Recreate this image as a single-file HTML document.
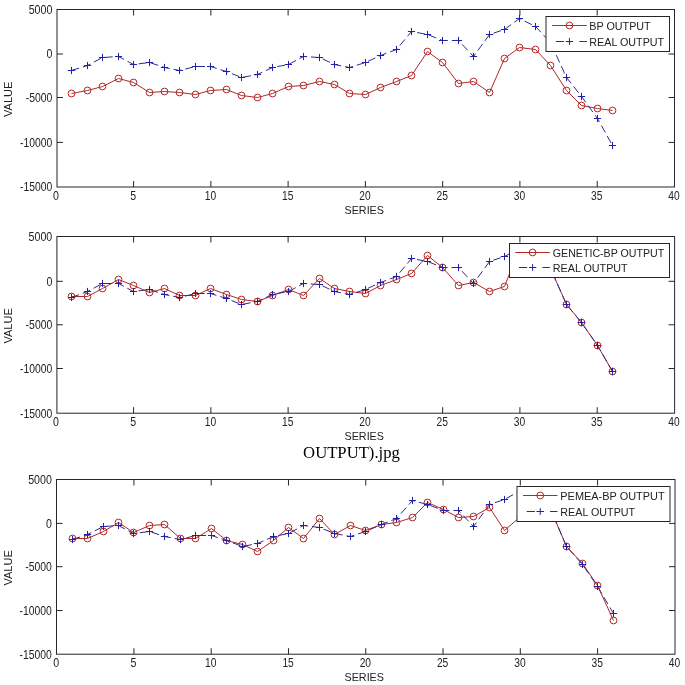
<!DOCTYPE html>
<html><head><meta charset="utf-8"><style>
html,body{margin:0;padding:0;background:#fff;}
svg{display:block;will-change:transform;font-family:"Liberation Sans",sans-serif;}
</style></head><body>
<svg width="685" height="685" viewBox="0 0 685 685">
<rect width="685" height="685" fill="#fff"/>
<g stroke="#262626" stroke-width="1" fill="none">
<rect x="57.00" y="9.50" width="617.50" height="177.50"/>
<path d="M133.59 187.00V181.00M133.59 9.50V15.50M210.86 187.00V181.00M210.86 9.50V15.50M288.12 187.00V181.00M288.12 9.50V15.50M365.39 187.00V181.00M365.39 9.50V15.50M442.65 187.00V181.00M442.65 9.50V15.50M519.92 187.00V181.00M519.92 9.50V15.50M597.19 187.00V181.00M597.19 9.50V15.50M57.00 54.00H63.00M674.50 54.00H668.50M57.00 97.50H63.00M674.50 97.50H668.50M57.00 142.40H63.00M674.50 142.40H668.50"/>
</g>
<g fill="none" stroke-width="1">
<path d="M71.50 93.50 L87.50 90.50 L102.50 86.50 L118.50 78.50 L133.50 82.50 L149.50 92.50 L164.50 91.50 L179.50 92.50 L195.50 94.50 L210.50 90.50 L226.50 89.50 L241.50 95.50 L257.50 97.50 L272.50 93.50 L288.50 86.50 L303.50 85.50 L319.50 81.50 L334.50 84.50 L349.50 93.50 L365.50 94.50 L380.50 87.50 L396.50 81.50 L411.50 75.50 L427.50 51.50 L442.50 62.50 L458.50 83.50 L473.50 81.50 L489.50 92.50 L504.50 58.50 L519.50 47.50 L535.50 49.50 L550.50 65.50 L566.50 90.50 L581.50 105.50 L597.50 108.50 L612.50 110.50" stroke="#b02828"/>
<path d="M71.50 70.50 L87.50 65.50 L102.50 57.50 L118.50 56.50 L133.50 64.50 L149.50 62.50 L164.50 67.50 L179.50 70.50 L195.50 66.50 L210.50 66.50 L226.50 71.50 L241.50 77.50 L257.50 74.50 L272.50 67.50 L288.50 64.50 L303.50 56.50 L319.50 57.50 L334.50 64.50 L349.50 67.50 L365.50 62.50 L380.50 55.50 L396.50 49.50 L411.50 31.50 L427.50 34.50 L442.50 40.50 L458.50 40.50 L473.50 56.50 L489.50 34.50 L504.50 29.50 L519.50 18.50 L535.50 26.50 L550.50 42.50 L566.50 77.50 L581.50 96.50 L597.50 118.50 L612.50 145.50" stroke="#2c2c8c" stroke-dasharray="8 4"/>
<g stroke="#b02828"><circle cx="71.50" cy="93.50" r="3.4"/><circle cx="87.50" cy="90.50" r="3.4"/><circle cx="102.50" cy="86.50" r="3.4"/><circle cx="118.50" cy="78.50" r="3.4"/><circle cx="133.50" cy="82.50" r="3.4"/><circle cx="149.50" cy="92.50" r="3.4"/><circle cx="164.50" cy="91.50" r="3.4"/><circle cx="179.50" cy="92.50" r="3.4"/><circle cx="195.50" cy="94.50" r="3.4"/><circle cx="210.50" cy="90.50" r="3.4"/><circle cx="226.50" cy="89.50" r="3.4"/><circle cx="241.50" cy="95.50" r="3.4"/><circle cx="257.50" cy="97.50" r="3.4"/><circle cx="272.50" cy="93.50" r="3.4"/><circle cx="288.50" cy="86.50" r="3.4"/><circle cx="303.50" cy="85.50" r="3.4"/><circle cx="319.50" cy="81.50" r="3.4"/><circle cx="334.50" cy="84.50" r="3.4"/><circle cx="349.50" cy="93.50" r="3.4"/><circle cx="365.50" cy="94.50" r="3.4"/><circle cx="380.50" cy="87.50" r="3.4"/><circle cx="396.50" cy="81.50" r="3.4"/><circle cx="411.50" cy="75.50" r="3.4"/><circle cx="427.50" cy="51.50" r="3.4"/><circle cx="442.50" cy="62.50" r="3.4"/><circle cx="458.50" cy="83.50" r="3.4"/><circle cx="473.50" cy="81.50" r="3.4"/><circle cx="489.50" cy="92.50" r="3.4"/><circle cx="504.50" cy="58.50" r="3.4"/><circle cx="519.50" cy="47.50" r="3.4"/><circle cx="535.50" cy="49.50" r="3.4"/><circle cx="550.50" cy="65.50" r="3.4"/><circle cx="566.50" cy="90.50" r="3.4"/><circle cx="581.50" cy="105.50" r="3.4"/><circle cx="597.50" cy="108.50" r="3.4"/><circle cx="612.50" cy="110.50" r="3.4"/></g>
<path d="M67.90 70.50H75.10M71.50 66.90V74.10M83.90 65.50H91.10M87.50 61.90V69.10M98.90 57.50H106.10M102.50 53.90V61.10M114.90 56.50H122.10M118.50 52.90V60.10M129.90 64.50H137.10M133.50 60.90V68.10M145.90 62.50H153.10M149.50 58.90V66.10M160.90 67.50H168.10M164.50 63.90V71.10M175.90 70.50H183.10M179.50 66.90V74.10M191.90 66.50H199.10M195.50 62.90V70.10M206.90 66.50H214.10M210.50 62.90V70.10M222.90 71.50H230.10M226.50 67.90V75.10M237.90 77.50H245.10M241.50 73.90V81.10M253.90 74.50H261.10M257.50 70.90V78.10M268.90 67.50H276.10M272.50 63.90V71.10M284.90 64.50H292.10M288.50 60.90V68.10M299.90 56.50H307.10M303.50 52.90V60.10M315.90 57.50H323.10M319.50 53.90V61.10M330.90 64.50H338.10M334.50 60.90V68.10M345.90 67.50H353.10M349.50 63.90V71.10M361.90 62.50H369.10M365.50 58.90V66.10M376.90 55.50H384.10M380.50 51.90V59.10M392.90 49.50H400.10M396.50 45.90V53.10M407.90 31.50H415.10M411.50 27.90V35.10M423.90 34.50H431.10M427.50 30.90V38.10M438.90 40.50H446.10M442.50 36.90V44.10M454.90 40.50H462.10M458.50 36.90V44.10M469.90 56.50H477.10M473.50 52.90V60.10M485.90 34.50H493.10M489.50 30.90V38.10M500.90 29.50H508.10M504.50 25.90V33.10M515.90 18.50H523.10M519.50 14.90V22.10M531.90 26.50H539.10M535.50 22.90V30.10M546.90 42.50H554.10M550.50 38.90V46.10M562.90 77.50H570.10M566.50 73.90V81.10M577.90 96.50H585.10M581.50 92.90V100.10M593.90 118.50H601.10M597.50 114.90V122.10M608.90 145.50H616.10M612.50 141.90V149.10" stroke="#2020a8"/>
</g>
<rect x="546.00" y="16.50" width="123.50" height="35.00" fill="#fff" stroke="#262626" stroke-width="1"/>
<path d="M552.10 25.50H586.80" stroke="#b02828" fill="none"/>
<circle cx="569.45" cy="25.50" r="3.4" stroke="#b02828" fill="none"/>
<path d="M555.80 41.50H564.00M565.85 41.50H573.05M579.30 41.50H586.80" stroke="#2c2c8c" fill="none"/>
<path d="M565.85 41.50H573.05M569.45 38.10V44.90" stroke="#2020a8" fill="none"/>
<g fill="#222">
<text x="589.30" y="29.60" font-size="11" textLength="61.4" lengthAdjust="spacingAndGlyphs">BP OUTPUT</text>
<text x="589.30" y="45.60" font-size="11" textLength="74.9" lengthAdjust="spacingAndGlyphs">REAL OUTPUT</text>
<text x="52.40" y="13.80" font-size="12.2" text-anchor="end" textLength="23.7" lengthAdjust="spacingAndGlyphs">5000</text>
<text x="52.40" y="58.30" font-size="12.2" text-anchor="end" textLength="5.9" lengthAdjust="spacingAndGlyphs">0</text>
<text x="52.40" y="101.80" font-size="12.2" text-anchor="end" textLength="26.7" lengthAdjust="spacingAndGlyphs">-5000</text>
<text x="52.40" y="146.70" font-size="12.2" text-anchor="end" textLength="32.3" lengthAdjust="spacingAndGlyphs">-10000</text>
<text x="52.40" y="191.30" font-size="12.2" text-anchor="end" textLength="32.3" lengthAdjust="spacingAndGlyphs">-15000</text>
<text x="55.93" y="200.20" font-size="12.2" text-anchor="middle" textLength="5.9" lengthAdjust="spacingAndGlyphs">0</text>
<text x="133.19" y="200.20" font-size="12.2" text-anchor="middle" textLength="5.9" lengthAdjust="spacingAndGlyphs">5</text>
<text x="210.46" y="200.20" font-size="12.2" text-anchor="middle" textLength="11.4" lengthAdjust="spacingAndGlyphs">10</text>
<text x="287.73" y="200.20" font-size="12.2" text-anchor="middle" textLength="11.4" lengthAdjust="spacingAndGlyphs">15</text>
<text x="364.99" y="200.20" font-size="12.2" text-anchor="middle" textLength="11.4" lengthAdjust="spacingAndGlyphs">20</text>
<text x="442.25" y="200.20" font-size="12.2" text-anchor="middle" textLength="11.4" lengthAdjust="spacingAndGlyphs">25</text>
<text x="519.52" y="200.20" font-size="12.2" text-anchor="middle" textLength="11.4" lengthAdjust="spacingAndGlyphs">30</text>
<text x="596.79" y="200.20" font-size="12.2" text-anchor="middle" textLength="11.4" lengthAdjust="spacingAndGlyphs">35</text>
<text x="674.05" y="200.20" font-size="12.2" text-anchor="middle" textLength="11.4" lengthAdjust="spacingAndGlyphs">40</text>
<text x="364.25" y="214.20" font-size="11" text-anchor="middle" textLength="39.4" lengthAdjust="spacingAndGlyphs">SERIES</text>
<text x="0" y="0" font-size="11" text-anchor="middle" textLength="35.4" lengthAdjust="spacingAndGlyphs" transform="translate(11.8 99.25) rotate(-90)">VALUE</text>
</g>
<g stroke="#262626" stroke-width="1" fill="none">
<rect x="56.90" y="236.50" width="617.70" height="176.70"/>
<path d="M133.59 413.20V407.20M133.59 236.50V242.50M210.86 413.20V407.20M210.86 236.50V242.50M288.12 413.20V407.20M288.12 236.50V242.50M365.39 413.20V407.20M365.39 236.50V242.50M442.65 413.20V407.20M442.65 236.50V242.50M519.92 413.20V407.20M519.92 236.50V242.50M597.19 413.20V407.20M597.19 236.50V242.50M56.90 281.30H62.90M674.60 281.30H668.60M56.90 324.80H62.90M674.60 324.80H668.60M56.90 368.50H62.90M674.60 368.50H668.60"/>
</g>
<g fill="none" stroke-width="1">
<path d="M71.50 296.50 L87.50 296.50 L102.50 288.50 L118.50 279.50 L133.50 285.50 L149.50 292.50 L164.50 288.50 L179.50 295.50 L195.50 295.50 L210.50 288.50 L226.50 294.50 L241.50 299.50 L257.50 301.50 L272.50 295.50 L288.50 289.50 L303.50 295.50 L319.50 278.50 L334.50 288.50 L349.50 291.50 L365.50 293.50 L380.50 285.50 L396.50 279.50 L411.50 273.50 L427.50 255.50 L442.50 267.50 L458.50 285.50 L473.50 282.50 L489.50 291.50 L504.50 286.50 L519.50 248.50 L535.50 253.50 L550.50 268.50 L566.50 304.50 L581.50 322.50 L597.50 345.50 L612.50 371.50" stroke="#b02828"/>
<path d="M71.50 297.50 L87.50 291.50 L102.50 283.50 L118.50 283.50 L133.50 291.50 L149.50 289.50 L164.50 294.50 L179.50 297.50 L195.50 293.50 L210.50 293.50 L226.50 298.50 L241.50 304.50 L257.50 301.50 L272.50 294.50 L288.50 291.50 L303.50 283.50 L319.50 284.50 L334.50 291.50 L349.50 294.50 L365.50 289.50 L380.50 282.50 L396.50 276.50 L411.50 258.50 L427.50 261.50 L442.50 267.50 L458.50 267.50 L473.50 283.50 L489.50 261.50 L504.50 256.50 L519.50 248.50 L535.50 253.50 L550.50 268.50 L566.50 304.50 L581.50 322.50 L597.50 345.50 L612.50 371.50" stroke="#2c2c8c" stroke-dasharray="8 4"/>
<g stroke="#b02828"><circle cx="71.50" cy="296.50" r="3.4"/><circle cx="87.50" cy="296.50" r="3.4"/><circle cx="102.50" cy="288.50" r="3.4"/><circle cx="118.50" cy="279.50" r="3.4"/><circle cx="133.50" cy="285.50" r="3.4"/><circle cx="149.50" cy="292.50" r="3.4"/><circle cx="164.50" cy="288.50" r="3.4"/><circle cx="179.50" cy="295.50" r="3.4"/><circle cx="195.50" cy="295.50" r="3.4"/><circle cx="210.50" cy="288.50" r="3.4"/><circle cx="226.50" cy="294.50" r="3.4"/><circle cx="241.50" cy="299.50" r="3.4"/><circle cx="257.50" cy="301.50" r="3.4"/><circle cx="272.50" cy="295.50" r="3.4"/><circle cx="288.50" cy="289.50" r="3.4"/><circle cx="303.50" cy="295.50" r="3.4"/><circle cx="319.50" cy="278.50" r="3.4"/><circle cx="334.50" cy="288.50" r="3.4"/><circle cx="349.50" cy="291.50" r="3.4"/><circle cx="365.50" cy="293.50" r="3.4"/><circle cx="380.50" cy="285.50" r="3.4"/><circle cx="396.50" cy="279.50" r="3.4"/><circle cx="411.50" cy="273.50" r="3.4"/><circle cx="427.50" cy="255.50" r="3.4"/><circle cx="442.50" cy="267.50" r="3.4"/><circle cx="458.50" cy="285.50" r="3.4"/><circle cx="473.50" cy="282.50" r="3.4"/><circle cx="489.50" cy="291.50" r="3.4"/><circle cx="504.50" cy="286.50" r="3.4"/><circle cx="519.50" cy="248.50" r="3.4"/><circle cx="535.50" cy="253.50" r="3.4"/><circle cx="550.50" cy="268.50" r="3.4"/><circle cx="566.50" cy="304.50" r="3.4"/><circle cx="581.50" cy="322.50" r="3.4"/><circle cx="597.50" cy="345.50" r="3.4"/><circle cx="612.50" cy="371.50" r="3.4"/></g>
<path d="M67.90 297.50H75.10M71.50 293.90V301.10M83.90 291.50H91.10M87.50 287.90V295.10M98.90 283.50H106.10M102.50 279.90V287.10M114.90 283.50H122.10M118.50 279.90V287.10M129.90 291.50H137.10M133.50 287.90V295.10M145.90 289.50H153.10M149.50 285.90V293.10M160.90 294.50H168.10M164.50 290.90V298.10M175.90 297.50H183.10M179.50 293.90V301.10M191.90 293.50H199.10M195.50 289.90V297.10M206.90 293.50H214.10M210.50 289.90V297.10M222.90 298.50H230.10M226.50 294.90V302.10M237.90 304.50H245.10M241.50 300.90V308.10M253.90 301.50H261.10M257.50 297.90V305.10M268.90 294.50H276.10M272.50 290.90V298.10M284.90 291.50H292.10M288.50 287.90V295.10M299.90 283.50H307.10M303.50 279.90V287.10M315.90 284.50H323.10M319.50 280.90V288.10M330.90 291.50H338.10M334.50 287.90V295.10M345.90 294.50H353.10M349.50 290.90V298.10M361.90 289.50H369.10M365.50 285.90V293.10M376.90 282.50H384.10M380.50 278.90V286.10M392.90 276.50H400.10M396.50 272.90V280.10M407.90 258.50H415.10M411.50 254.90V262.10M423.90 261.50H431.10M427.50 257.90V265.10M438.90 267.50H446.10M442.50 263.90V271.10M454.90 267.50H462.10M458.50 263.90V271.10M469.90 283.50H477.10M473.50 279.90V287.10M485.90 261.50H493.10M489.50 257.90V265.10M500.90 256.50H508.10M504.50 252.90V260.10M515.90 248.50H523.10M519.50 244.90V252.10M531.90 253.50H539.10M535.50 249.90V257.10M546.90 268.50H554.10M550.50 264.90V272.10M562.90 304.50H570.10M566.50 300.90V308.10M577.90 322.50H585.10M581.50 318.90V326.10M593.90 345.50H601.10M597.50 341.90V349.10M608.90 371.50H616.10M612.50 367.90V375.10" stroke="#2020a8"/>
</g>
<rect x="509.50" y="243.50" width="160.00" height="34.00" fill="#fff" stroke="#262626" stroke-width="1"/>
<path d="M515.30 252.50H549.90" stroke="#b02828" fill="none"/>
<circle cx="532.60" cy="252.50" r="3.4" stroke="#b02828" fill="none"/>
<path d="M519.00 267.50H527.20M529.00 267.50H536.20M542.40 267.50H549.90" stroke="#2c2c8c" fill="none"/>
<path d="M529.00 267.50H536.20M532.60 264.10V270.90" stroke="#2020a8" fill="none"/>
<g fill="#222">
<text x="552.80" y="256.60" font-size="11" textLength="111.5" lengthAdjust="spacingAndGlyphs">GENETIC-BP OUTPUT</text>
<text x="552.80" y="271.60" font-size="11" textLength="74.9" lengthAdjust="spacingAndGlyphs">REAL OUTPUT</text>
<text x="52.30" y="240.80" font-size="12.2" text-anchor="end" textLength="23.7" lengthAdjust="spacingAndGlyphs">5000</text>
<text x="52.30" y="285.60" font-size="12.2" text-anchor="end" textLength="5.9" lengthAdjust="spacingAndGlyphs">0</text>
<text x="52.30" y="329.10" font-size="12.2" text-anchor="end" textLength="26.7" lengthAdjust="spacingAndGlyphs">-5000</text>
<text x="52.30" y="372.80" font-size="12.2" text-anchor="end" textLength="32.3" lengthAdjust="spacingAndGlyphs">-10000</text>
<text x="52.30" y="417.50" font-size="12.2" text-anchor="end" textLength="32.3" lengthAdjust="spacingAndGlyphs">-15000</text>
<text x="55.93" y="426.40" font-size="12.2" text-anchor="middle" textLength="5.9" lengthAdjust="spacingAndGlyphs">0</text>
<text x="133.19" y="426.40" font-size="12.2" text-anchor="middle" textLength="5.9" lengthAdjust="spacingAndGlyphs">5</text>
<text x="210.46" y="426.40" font-size="12.2" text-anchor="middle" textLength="11.4" lengthAdjust="spacingAndGlyphs">10</text>
<text x="287.73" y="426.40" font-size="12.2" text-anchor="middle" textLength="11.4" lengthAdjust="spacingAndGlyphs">15</text>
<text x="364.99" y="426.40" font-size="12.2" text-anchor="middle" textLength="11.4" lengthAdjust="spacingAndGlyphs">20</text>
<text x="442.25" y="426.40" font-size="12.2" text-anchor="middle" textLength="11.4" lengthAdjust="spacingAndGlyphs">25</text>
<text x="519.52" y="426.40" font-size="12.2" text-anchor="middle" textLength="11.4" lengthAdjust="spacingAndGlyphs">30</text>
<text x="596.79" y="426.40" font-size="12.2" text-anchor="middle" textLength="11.4" lengthAdjust="spacingAndGlyphs">35</text>
<text x="674.05" y="426.40" font-size="12.2" text-anchor="middle" textLength="11.4" lengthAdjust="spacingAndGlyphs">40</text>
<text x="364.25" y="440.40" font-size="11" text-anchor="middle" textLength="39.4" lengthAdjust="spacingAndGlyphs">SERIES</text>
<text x="0" y="0" font-size="11" text-anchor="middle" textLength="35.4" lengthAdjust="spacingAndGlyphs" transform="translate(11.8 325.85) rotate(-90)">VALUE</text>
</g>
<g stroke="#262626" stroke-width="1" fill="none">
<rect x="56.50" y="479.50" width="618.50" height="174.70"/>
<path d="M133.93 654.20V648.20M133.93 479.50V485.50M211.20 654.20V648.20M211.20 479.50V485.50M288.48 654.20V648.20M288.48 479.50V485.50M365.75 654.20V648.20M365.75 479.50V485.50M443.03 654.20V648.20M443.03 479.50V485.50M520.30 654.20V648.20M520.30 479.50V485.50M597.58 654.20V648.20M597.58 479.50V485.50M56.50 523.40H62.50M675.00 523.40H669.00M56.50 566.70H62.50M675.00 566.70H669.00M56.50 610.50H62.50M675.00 610.50H669.00"/>
</g>
<g fill="none" stroke-width="1">
<path d="M72.50 538.50 L87.50 538.50 L103.50 531.50 L118.50 522.50 L133.50 532.50 L149.50 525.50 L164.50 524.50 L180.50 538.50 L195.50 538.50 L211.50 528.50 L226.50 540.50 L242.50 544.50 L257.50 551.50 L273.50 540.50 L288.50 527.50 L303.50 538.50 L319.50 518.50 L334.50 534.50 L350.50 525.50 L365.50 530.50 L381.50 524.50 L396.50 522.50 L412.50 517.50 L427.50 502.50 L443.50 509.50 L458.50 517.50 L473.50 516.50 L489.50 507.50 L504.50 530.50 L520.50 516.50 L535.50 495.50 L551.50 511.50 L566.50 546.50 L582.50 563.50 L597.50 585.50 L613.50 620.50" stroke="#b02828"/>
<path d="M72.50 539.50 L87.50 534.50 L103.50 526.50 L118.50 525.50 L133.50 533.50 L149.50 531.50 L164.50 536.50 L180.50 539.50 L195.50 535.50 L211.50 535.50 L226.50 540.50 L242.50 546.50 L257.50 543.50 L273.50 536.50 L288.50 533.50 L303.50 525.50 L319.50 527.50 L334.50 533.50 L350.50 536.50 L365.50 531.50 L381.50 524.50 L396.50 518.50 L412.50 500.50 L427.50 504.50 L443.50 510.50 L458.50 510.50 L473.50 526.50 L489.50 504.50 L504.50 499.50 L520.50 490.50 L535.50 495.50 L551.50 511.50 L566.50 546.50 L582.50 564.50 L597.50 586.50 L613.50 613.50" stroke="#2c2c8c" stroke-dasharray="8 4"/>
<g stroke="#b02828"><circle cx="72.50" cy="538.50" r="3.4"/><circle cx="87.50" cy="538.50" r="3.4"/><circle cx="103.50" cy="531.50" r="3.4"/><circle cx="118.50" cy="522.50" r="3.4"/><circle cx="133.50" cy="532.50" r="3.4"/><circle cx="149.50" cy="525.50" r="3.4"/><circle cx="164.50" cy="524.50" r="3.4"/><circle cx="180.50" cy="538.50" r="3.4"/><circle cx="195.50" cy="538.50" r="3.4"/><circle cx="211.50" cy="528.50" r="3.4"/><circle cx="226.50" cy="540.50" r="3.4"/><circle cx="242.50" cy="544.50" r="3.4"/><circle cx="257.50" cy="551.50" r="3.4"/><circle cx="273.50" cy="540.50" r="3.4"/><circle cx="288.50" cy="527.50" r="3.4"/><circle cx="303.50" cy="538.50" r="3.4"/><circle cx="319.50" cy="518.50" r="3.4"/><circle cx="334.50" cy="534.50" r="3.4"/><circle cx="350.50" cy="525.50" r="3.4"/><circle cx="365.50" cy="530.50" r="3.4"/><circle cx="381.50" cy="524.50" r="3.4"/><circle cx="396.50" cy="522.50" r="3.4"/><circle cx="412.50" cy="517.50" r="3.4"/><circle cx="427.50" cy="502.50" r="3.4"/><circle cx="443.50" cy="509.50" r="3.4"/><circle cx="458.50" cy="517.50" r="3.4"/><circle cx="473.50" cy="516.50" r="3.4"/><circle cx="489.50" cy="507.50" r="3.4"/><circle cx="504.50" cy="530.50" r="3.4"/><circle cx="520.50" cy="516.50" r="3.4"/><circle cx="535.50" cy="495.50" r="3.4"/><circle cx="551.50" cy="511.50" r="3.4"/><circle cx="566.50" cy="546.50" r="3.4"/><circle cx="582.50" cy="563.50" r="3.4"/><circle cx="597.50" cy="585.50" r="3.4"/><circle cx="613.50" cy="620.50" r="3.4"/></g>
<path d="M68.90 539.50H76.10M72.50 535.90V543.10M83.90 534.50H91.10M87.50 530.90V538.10M99.90 526.50H107.10M103.50 522.90V530.10M114.90 525.50H122.10M118.50 521.90V529.10M129.90 533.50H137.10M133.50 529.90V537.10M145.90 531.50H153.10M149.50 527.90V535.10M160.90 536.50H168.10M164.50 532.90V540.10M176.90 539.50H184.10M180.50 535.90V543.10M191.90 535.50H199.10M195.50 531.90V539.10M207.90 535.50H215.10M211.50 531.90V539.10M222.90 540.50H230.10M226.50 536.90V544.10M238.90 546.50H246.10M242.50 542.90V550.10M253.90 543.50H261.10M257.50 539.90V547.10M269.90 536.50H277.10M273.50 532.90V540.10M284.90 533.50H292.10M288.50 529.90V537.10M299.90 525.50H307.10M303.50 521.90V529.10M315.90 527.50H323.10M319.50 523.90V531.10M330.90 533.50H338.10M334.50 529.90V537.10M346.90 536.50H354.10M350.50 532.90V540.10M361.90 531.50H369.10M365.50 527.90V535.10M377.90 524.50H385.10M381.50 520.90V528.10M392.90 518.50H400.10M396.50 514.90V522.10M408.90 500.50H416.10M412.50 496.90V504.10M423.90 504.50H431.10M427.50 500.90V508.10M439.90 510.50H447.10M443.50 506.90V514.10M454.90 510.50H462.10M458.50 506.90V514.10M469.90 526.50H477.10M473.50 522.90V530.10M485.90 504.50H493.10M489.50 500.90V508.10M500.90 499.50H508.10M504.50 495.90V503.10M516.90 490.50H524.10M520.50 486.90V494.10M531.90 495.50H539.10M535.50 491.90V499.10M547.90 511.50H555.10M551.50 507.90V515.10M562.90 546.50H570.10M566.50 542.90V550.10M578.90 564.50H586.10M582.50 560.90V568.10M593.90 586.50H601.10M597.50 582.90V590.10M609.90 613.50H617.10M613.50 609.90V617.10" stroke="#2020a8"/>
</g>
<rect x="517.00" y="486.50" width="153.00" height="35.00" fill="#fff" stroke="#262626" stroke-width="1"/>
<path d="M523.00 495.50H557.50" stroke="#b02828" fill="none"/>
<circle cx="540.25" cy="495.50" r="3.4" stroke="#b02828" fill="none"/>
<path d="M526.70 511.50H534.90M536.65 511.50H543.85M550.00 511.50H557.50" stroke="#2c2c8c" fill="none"/>
<path d="M536.65 511.50H543.85M540.25 508.10V514.90" stroke="#2020a8" fill="none"/>
<g fill="#222">
<text x="560.30" y="499.60" font-size="11" textLength="104.3" lengthAdjust="spacingAndGlyphs">PEMEA-BP OUTPUT</text>
<text x="560.30" y="515.60" font-size="11" textLength="74.9" lengthAdjust="spacingAndGlyphs">REAL OUTPUT</text>
<text x="51.90" y="483.80" font-size="12.2" text-anchor="end" textLength="23.7" lengthAdjust="spacingAndGlyphs">5000</text>
<text x="51.90" y="527.70" font-size="12.2" text-anchor="end" textLength="5.9" lengthAdjust="spacingAndGlyphs">0</text>
<text x="51.90" y="571.00" font-size="12.2" text-anchor="end" textLength="26.7" lengthAdjust="spacingAndGlyphs">-5000</text>
<text x="51.90" y="614.80" font-size="12.2" text-anchor="end" textLength="32.3" lengthAdjust="spacingAndGlyphs">-10000</text>
<text x="51.90" y="658.50" font-size="12.2" text-anchor="end" textLength="32.3" lengthAdjust="spacingAndGlyphs">-15000</text>
<text x="56.25" y="667.40" font-size="12.2" text-anchor="middle" textLength="5.9" lengthAdjust="spacingAndGlyphs">0</text>
<text x="133.53" y="667.40" font-size="12.2" text-anchor="middle" textLength="5.9" lengthAdjust="spacingAndGlyphs">5</text>
<text x="210.80" y="667.40" font-size="12.2" text-anchor="middle" textLength="11.4" lengthAdjust="spacingAndGlyphs">10</text>
<text x="288.08" y="667.40" font-size="12.2" text-anchor="middle" textLength="11.4" lengthAdjust="spacingAndGlyphs">15</text>
<text x="365.35" y="667.40" font-size="12.2" text-anchor="middle" textLength="11.4" lengthAdjust="spacingAndGlyphs">20</text>
<text x="442.63" y="667.40" font-size="12.2" text-anchor="middle" textLength="11.4" lengthAdjust="spacingAndGlyphs">25</text>
<text x="519.90" y="667.40" font-size="12.2" text-anchor="middle" textLength="11.4" lengthAdjust="spacingAndGlyphs">30</text>
<text x="597.18" y="667.40" font-size="12.2" text-anchor="middle" textLength="11.4" lengthAdjust="spacingAndGlyphs">35</text>
<text x="674.45" y="667.40" font-size="12.2" text-anchor="middle" textLength="11.4" lengthAdjust="spacingAndGlyphs">40</text>
<text x="364.25" y="681.40" font-size="11" text-anchor="middle" textLength="39.4" lengthAdjust="spacingAndGlyphs">SERIES</text>
<text x="0" y="0" font-size="11" text-anchor="middle" textLength="35.4" lengthAdjust="spacingAndGlyphs" transform="translate(11.8 567.85) rotate(-90)">VALUE</text>
</g>
<text x="303.1" y="457.6" font-size="16.6" font-family="Liberation Serif, serif" fill="#000" textLength="96.8" lengthAdjust="spacingAndGlyphs">OUTPUT).jpg</text>
</svg>
</body></html>
